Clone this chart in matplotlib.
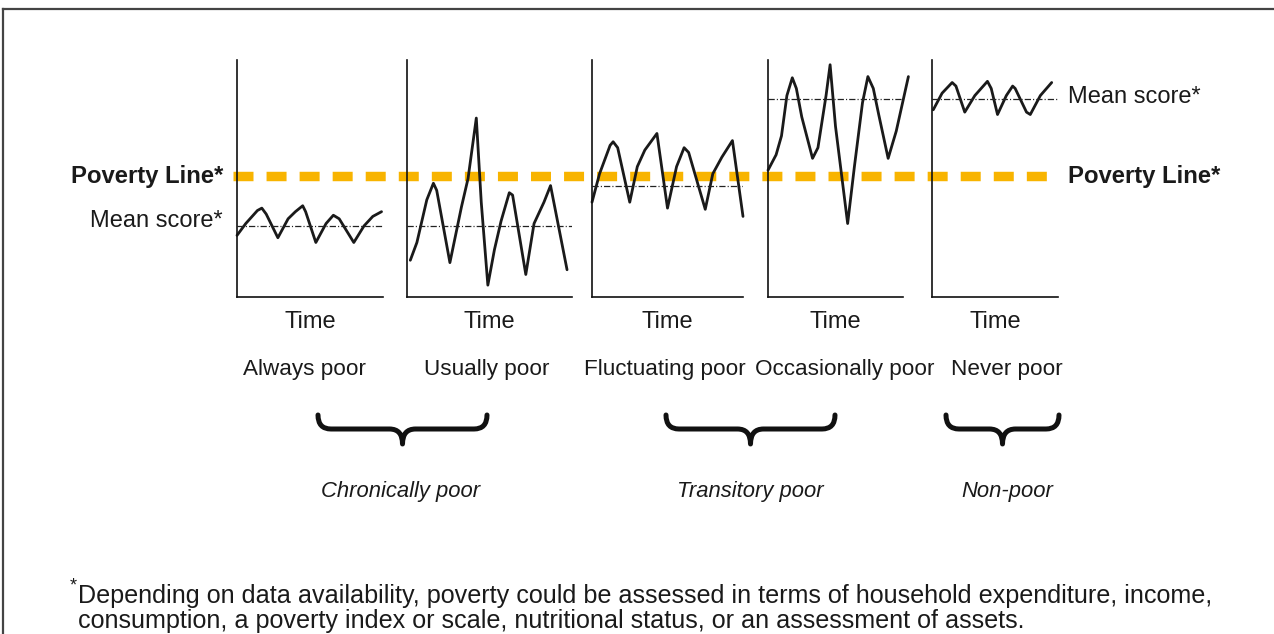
import matplotlib
matplotlib.use("Agg")
import matplotlib.pyplot as plt
from matplotlib.path import Path
from matplotlib.patches import PathPatch
from matplotlib.transforms import blended_transform_factory

# ---------------- data ----------------
categories = ["Always poor", "Usually poor", "Fluctuating poor", "Occasionally poor", "Never poor"]
groups = ["Chronically poor", "Transitory poor", "Non-poor"]
x_label = "Time"
poverty_line = 51.0
mean_scores = [30.0, 30.0, 47.0, 83.5, 83.5]

always_t = [0.00, 0.06, 0.14, 0.17, 0.20, 0.28, 0.35, 0.40, 0.45, 0.47, 0.54, 0.61, 0.66, 0.70, 0.80, 0.87, 0.93, 0.99]
always_v = [26, 31, 36.5, 37.5, 35, 25, 33, 36, 38.5, 36, 23, 31, 34.5, 33, 23, 30, 34, 36]

usually_t = [0.02, 0.06, 0.12, 0.16, 0.18, 0.26, 0.33, 0.37, 0.42, 0.45, 0.49, 0.53, 0.57, 0.62, 0.64, 0.72, 0.77, 0.83, 0.87, 0.97]
usually_v = [15.5, 23, 41, 48, 45, 14.5, 38, 50, 75.5, 40, 5, 20, 32, 44, 43, 9.5, 31, 40, 47, 11.5]

fluct_t = [0.00, 0.05, 0.12, 0.14, 0.17, 0.25, 0.30, 0.35, 0.43, 0.50, 0.56, 0.61, 0.64, 0.75, 0.80, 0.86, 0.93, 1.00]
fluct_v = [40, 52, 64, 65.5, 63, 40, 55, 62, 69, 37.5, 55, 63, 61, 37, 52, 59, 66, 34]

occas_t = [0.00, 0.06, 0.10, 0.14, 0.18, 0.21, 0.25, 0.33, 0.37, 0.43, 0.46, 0.50, 0.59, 0.64, 0.70, 0.74, 0.78, 0.82, 0.89, 0.95, 1.04]
occas_v = [53.5, 60, 68, 85, 92.5, 88, 76, 58.5, 63, 85, 98, 72, 31, 55, 82, 93, 88, 77, 58.5, 70, 93]

never_t = [0.01, 0.08, 0.16, 0.19, 0.26, 0.34, 0.44, 0.47, 0.52, 0.59, 0.64, 0.66, 0.75, 0.78, 0.86, 0.95]
never_v = [79, 86, 90.5, 89, 78, 85, 91, 88, 77, 85, 89, 88, 78, 77, 85, 90.5]

series_t = [always_t, usually_t, fluct_t, occas_t, never_t]
series_v = [always_v, usually_v, fluct_v, occas_v, never_v]

footnote_1 = "Depending on data availability, poverty could be assessed in terms of household expenditure, income,"
footnote_2 = "consumption, a poverty index or scale, nutritional status, or an assessment of assets."

# ---------------- layout ----------------
W, H = 1274, 634
FONT = ["Liberation Sans", "DejaVu Sans"]
plt.rcParams["font.family"] = FONT
plt.rcParams["lines.scale_dashes"] = False

fig = plt.figure(figsize=(W / 100, H / 100), dpi=100)
fig.patch.set_facecolor("white")

# overlay in pixel coordinates (y downward)
ov = fig.add_axes([0, 0, 1, 1], zorder=0)
ov.set_xlim(0, W)
ov.set_ylim(H, 0)
ov.axis("off")
ov.patch.set_alpha(0)

panel_px = [(237, 383), (407, 572), (592, 743), (768, 903), (932, 1058)]
top_px, bot_px = 60, 297

axes = []
for i, (x0, x1) in enumerate(panel_px):
    ax = fig.add_axes([x0 / W, 1 - bot_px / H, (x1 - x0) / W, (bot_px - top_px) / H], zorder=2)
    ax.set_xlim(0, 1)
    ax.set_ylim(0, 100)
    ax.patch.set_alpha(0)
    for s in ("top", "right"):
        ax.spines[s].set_visible(False)
    for s in ("left", "bottom"):
        ax.spines[s].set_linewidth(1.2)
        ax.spines[s].set_color("#111111")
    ax.set_xticks([])
    ax.set_yticks([])
    ax.plot(series_t[i], series_v[i], color="#1a1a1a", lw=2.0,
            solid_joinstyle="round", solid_capstyle="round", clip_on=False)
    ax.axhline(mean_scores[i], color="#222222", lw=0.9, dashes=(4.5, 1.5, 0.8, 1.5))
    axes.append(ax)
    xc = (x0 + x1) / 2
    ov.text(xc, 322, x_label, ha="center", va="center", fontsize=17, color="#1a1a1a")

cat_x = [304, 487, 665, 845, 1007]
for cx, name in zip(cat_x, categories):
    ov.text(cx, 369, name, ha="center", va="center", fontsize=16.2, color="#1a1a1a")

# poverty line across panels
bt = blended_transform_factory(ov.transData, axes[0].transData)
ov.plot([233, 1058], [poverty_line, poverty_line], transform=bt, color="#F8B400",
        lw=6.8, dashes=(14.4, 9.4), solid_capstyle="butt", zorder=3)
ov.text(223, poverty_line, "Poverty Line*", transform=bt, ha="right", va="center",
        fontsize=17.2, fontweight="bold", color="#1a1a1a")
ov.text(1068, poverty_line, "Poverty Line*", transform=bt, ha="left", va="center",
        fontsize=17.2, fontweight="bold", color="#1a1a1a")

bt1 = blended_transform_factory(ov.transData, axes[0].transData)
ov.text(223, mean_scores[0] + 2, "Mean score*", transform=bt1, ha="right", va="center",
        fontsize=17, color="#1a1a1a")
bt5 = blended_transform_factory(ov.transData, axes[4].transData)
ov.text(1068, mean_scores[4] + 1, "Mean score*", transform=bt5, ha="left", va="center",
        fontsize=17, color="#1a1a1a")

# braces
def brace(x0, x1, y_top=415, y_mid=429, y_tip=444, r=13):
    xc = (x0 + x1) / 2
    verts = [(x0, y_top), (x0, y_mid), (x0 + r, y_mid),
             (xc - r, y_mid), (xc, y_mid), (xc, y_tip),
             (xc, y_mid), (xc + r, y_mid),
             (x1 - r, y_mid), (x1, y_mid), (x1, y_top)]
    codes = [Path.MOVETO, Path.CURVE3, Path.CURVE3,
             Path.LINETO, Path.CURVE3, Path.CURVE3,
             Path.CURVE3, Path.CURVE3,
             Path.LINETO, Path.CURVE3, Path.CURVE3]
    ov.add_patch(PathPatch(Path(verts, codes), fill=False, lw=3.6, ec="#111111",
                           capstyle="round", joinstyle="round"))

brace_px = [(318, 487), (666, 835), (946, 1059)]
group_x = [401, 750, 1007]
for (b0, b1), gx, g in zip(brace_px, group_x, groups):
    brace(b0, b1)
    ov.text(gx, 491, g, ha="center", va="center", fontsize=15.8, style="italic", color="#1a1a1a")

# footnote
ov.text(70, 586, "*", ha="left", va="center", fontsize=13, color="#1a1a1a")
ov.text(78, 596, footnote_1, ha="left", va="center", fontsize=18.1, color="#1a1a1a")
ov.text(78, 621, footnote_2, ha="left", va="center", fontsize=18.1, color="#1a1a1a")

# frame (top and left)
ov.plot([3, W], [9, 9], color="#444444", lw=1.6, clip_on=False)
ov.plot([3, 3], [9, H], color="#444444", lw=1.6, clip_on=False)

fig.savefig("out.png", dpi=100, facecolor="white")
